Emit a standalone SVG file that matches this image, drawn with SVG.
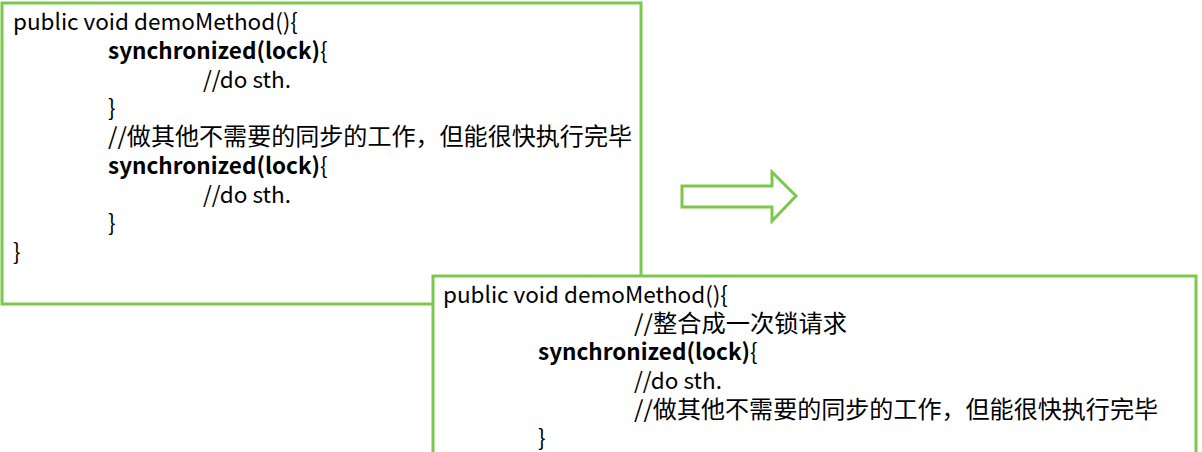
<svg xmlns="http://www.w3.org/2000/svg" width="1202" height="452" viewBox="0 0 1202 452">
<style>
.b{fill:#fff;stroke:#7cc84c;stroke-width:3}
text{font-family:"Noto Sans CJK SC","Noto Sans",sans-serif;font-size:22.5px;fill:#000}
.k{font-weight:bold}
.c{font-size:23.5px}
</style>
<rect width="1202" height="452" fill="#fff"/>
<g id="box1">
<rect class="b" x="2" y="3" width="639" height="301"/>
<text x="13" y="30">public void demoMethod(){</text>
<text x="108" y="59"><tspan class="k">synchronized(lock)</tspan>{</text>
<text x="203" y="88">//do sth.</text>
<text x="108" y="116">}</text>
<text class="c" x="108" y="145" textLength="524" lengthAdjust="spacingAndGlyphs">//做其他不需要的同步的工作，但能很快执行完毕</text>
<text x="108" y="174"><tspan class="k">synchronized(lock)</tspan>{</text>
<text x="203" y="203">//do sth.</text>
<text x="108" y="231">}</text>
<text x="13" y="260">}</text>
</g>
<g id="connectors">
<polygon class="b" points="682,186 772,186 772,172 796,196 772,221 772,207 682,207"/>
</g>
<g id="box2">
<rect class="b" x="433" y="276" width="763" height="190"/>
<text x="443" y="303">public void demoMethod(){</text>
<text class="c" x="634" y="332" textLength="213" lengthAdjust="spacingAndGlyphs">//整合成一次锁请求</text>
<text x="538" y="360"><tspan class="k">synchronized(lock)</tspan>{</text>
<text x="634" y="389">//do sth.</text>
<text class="c" x="634" y="418" textLength="524" lengthAdjust="spacingAndGlyphs">//做其他不需要的同步的工作，但能很快执行完毕</text>
<text x="538" y="446">}</text>
</g>
</svg>
